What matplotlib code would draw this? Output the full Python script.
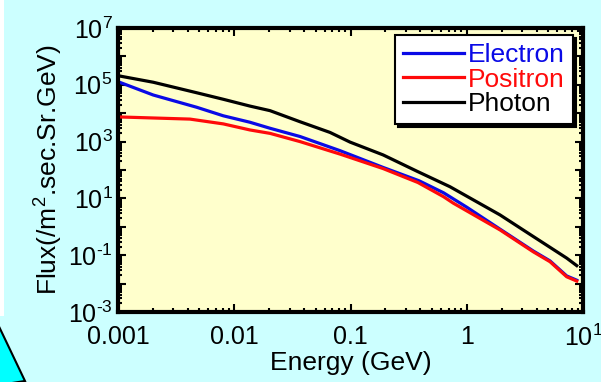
import math
import matplotlib
matplotlib.use("Agg")
import matplotlib.pyplot as plt
import matplotlib.ticker as mticker
from matplotlib.patches import Polygon, Rectangle

plt.rcParams['font.family'] = ['Liberation Sans', 'DejaVu Sans']
plt.rcParams['mathtext.fontset'] = 'custom'
plt.rcParams['mathtext.rm'] = 'Liberation Sans'
plt.rcParams['mathtext.default'] = 'regular'

# valores
electron_e = [0.001, 0.00201, 0.00475, 0.00805, 0.01365, 0.0203, 0.0368, 0.0813,
              0.191, 0.389, 0.631, 1.0, 1.93, 3.73, 5.2, 7.24, 8.83]
electron_flux = [1.29e5, 4.37e4, 1.62e4, 8.1e3, 4.8e3, 2.95e3, 1.51e3, 479,
                 123, 41.7, 15.8, 4.9, 0.83, 0.141, 0.063, 0.0186, 0.0132]

positron_e = [0.001, 0.00416, 0.00805, 0.01365, 0.0203, 0.0368, 0.0813, 0.191,
              0.380, 0.631, 0.766, 1.93, 3.73, 5.2, 7.24, 8.83]
positron_flux = [7.4e3, 6.2e3, 4.2e3, 2.57e3, 1.95e3, 1.0e3, 363, 112,
                 36.3, 11.5, 6.8, 0.78, 0.132, 0.059, 0.0174, 0.0123]

photon_e = [0.001, 0.00201, 0.00475, 0.00805, 0.01365, 0.0203, 0.0368, 0.0667,
            0.0991, 0.191, 0.372, 0.718, 1.93, 3.73, 7.24, 8.83]
photon_flux = [2.09e5, 1.23e5, 5.25e4, 3.09e4, 1.78e4, 1.23e4, 5.0e3, 2.1e3,
               960, 339, 91, 25.7, 2.63, 0.457, 0.079, 0.043]

x_ticks = [0.001, 0.01, 0.1, 1, 10]
x_labels = ['0.001', '0.01', '0.1', '1', '$10^{1}$']

fig = plt.figure(figsize=(6.01, 3.82), dpi=100)
fig.patch.set_facecolor('#CCFFFF')

# franja blanca y triangulo cian de la diapositiva
fig.patches.append(Rectangle((0, 66 / 382), 4 / 601, 1, transform=fig.transFigure,
                             facecolor='white', edgecolor='none', zorder=0))
fig.patches.append(Polygon([(-0.01, 66 / 382), (25 / 601, 1 / 382), (-0.01, -0.01)],
                           closed=True, transform=fig.transFigure,
                           facecolor='#00FFFF', edgecolor='black', linewidth=1.5))

ax = fig.add_axes([118 / 601, 70 / 382, 465 / 601, 284 / 382])
ax.set_facecolor('#FFFFCC')

ax.plot(electron_e, electron_flux, color='#0A0AE6', lw=2.3, label='Electron')
ax.plot(positron_e, positron_flux, color='#FF0A0A', lw=2.3, label='Positron')
ax.plot(photon_e, photon_flux, color='black', lw=2.3, label='Photon')

ax.set_xscale('log')
ax.set_yscale('log')
ax.set_xlim(0.001, 10)
ax.set_ylim(1e-3, 1e7)

ax.set_xticks(x_ticks)
ax.set_xticklabels(x_labels)
ax.xaxis.set_minor_locator(mticker.LogLocator(base=10, subs=range(2, 10)))
ax.xaxis.set_minor_formatter(mticker.NullFormatter())

ax.yaxis.set_major_locator(mticker.LogLocator(base=10, numticks=20))
ax.yaxis.set_minor_locator(mticker.LogLocator(base=10, subs=range(2, 10), numticks=20))
ax.yaxis.set_minor_formatter(mticker.NullFormatter())


def ylab(v, pos):
    e = int(round(math.log10(v)))
    if e % 2 == 0:
        return ''
    # guion corto como en el original
    return '$10^{%s}$' % str(e).replace('-', '\u2010')


ax.yaxis.set_major_formatter(mticker.FuncFormatter(ylab))

ax.tick_params(which='both', direction='in', top=True, right=True, width=1.5,
               labelsize=18, colors='black')
ax.tick_params(which='major', length=6)
ax.tick_params(which='minor', length=3)
ax.tick_params(axis='x', pad=9)
ax.tick_params(axis='y', pad=4)
for s in ax.spines.values():
    s.set_linewidth(3)

ax.set_xlabel('Energy (GeV)', fontsize=19, labelpad=0)
ax.set_ylabel('Flux(/m$^{2}$.sec.Sr.GeV)', fontsize=19, labelpad=2)

leg = ax.legend(loc='upper right', bbox_to_anchor=(0.978, 0.975), borderaxespad=0,
                fontsize=19, frameon=True, fancybox=False,
                shadow={'color': 'black', 'alpha': 1}, labelcolor='linecolor',
                handlelength=2.3, handletextpad=0.15, labelspacing=0.02,
                borderpad=0.3)
leg.get_frame().set_edgecolor('black')
leg.get_frame().set_linewidth(1.5)
leg.get_frame().set_facecolor('white')

fig.savefig('out.png', dpi=100, facecolor=fig.get_facecolor())
